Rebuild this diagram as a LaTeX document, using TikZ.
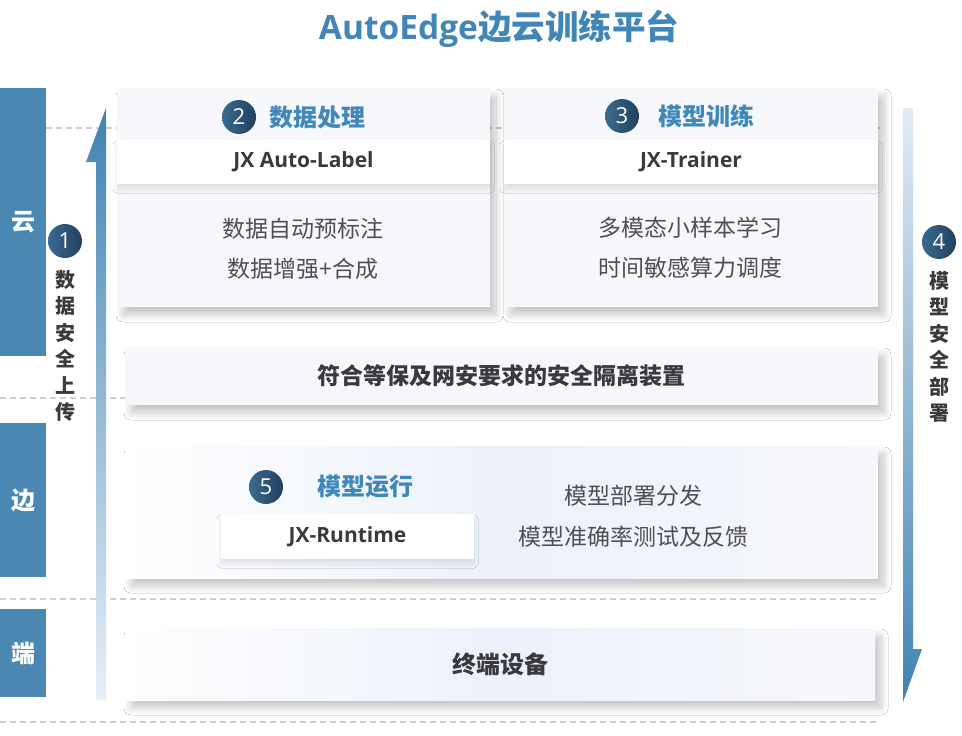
\documentclass[tikz,border=0pt]{standalone}
\usepackage{fontspec}
\setmainfont{Noto Sans CJK SC}
\newfontfamily\latin{Open Sans}
\usetikzlibrary{positioning,shadows.blur}

\definecolor{barblue}{RGB}{74,135,178}
\definecolor{titleblue}{RGB}{66,134,184}
\definecolor{headblue}{RGB}{64,135,186}
\definecolor{textdark}{RGB}{58,58,62}
\definecolor{textbody}{RGB}{80,80,84}
\definecolor{dashc}{RGB}{204,207,214}
\definecolor{cardbg}{RGB}{247,248,252}
\definecolor{cardmid}{RGB}{236,241,250}
\definecolor{badgeA}{RGB}{58,106,145}
\definecolor{badgeB}{RGB}{34,64,92}
\definecolor{arrdark}{RGB}{64,130,178}
\definecolor{arrlight}{RGB}{226,236,245}
\newcommand\fsz[1]{\fontsize{#1}{#1}\selectfont}

\begin{document}
\begin{tikzpicture}[x=1pt,y=-1pt,
 card/.style={rectangle,inner sep=0,fill=cardbg,
  blur shadow={shadow xshift=6pt,shadow yshift=-8pt,shadow blur radius=7pt,shadow blur steps=14,shadow blur extra rounding=0pt,shadow opacity=22}},
 strip/.style={rectangle,inner sep=0,fill=white,text=textdark,font=\latin\bfseries\fsz{21},
  blur shadow={shadow xshift=0pt,shadow yshift=-5pt,shadow blur radius=4pt,shadow blur steps=10,shadow blur extra rounding=0pt,shadow opacity=10}},
 lbar/.style={rectangle,inner sep=0,fill=barblue,text=white,minimum width=46pt,font=\bfseries\fsz{24}},
 badge/.style={circle,inner sep=0,minimum size=34pt,left color=badgeA,right color=badgeB,text=white,font=\latin\fsz{22}},
 head/.style={inner sep=0,text=headblue,font=\bfseries\fsz{24}},
 body/.style={align=center,inner sep=0,text=textbody,font=\fontsize{23}{40}\selectfont},
 vtext/.style={align=center,inner sep=0,text=textdark,font=\bfseries\fontsize{20}{26.4}\selectfont},
 sep/.style={draw=dashc,line width=1.2pt,dash pattern=on 6pt off 4pt}]
\fill[white] (0,0) rectangle (962,736);
\useasboundingbox (0,0) rectangle (962,736);

\node[text=titleblue,font=\bfseries\fsz{33.5}] (ttl) at (499,29) {{\latin AutoEdge}边云训练平台};

\draw[sep] (46,128) -- (880,128);
\draw[sep] (0,398) -- (880,398);
\draw[sep] (0,599) -- (876,599);
\draw[sep] (0,722) -- (880,722);

\shade[top color=arrdark,bottom color=arrlight!80!white]
 (96,700) -- (96,162) -- (86,162) -- (106,108) -- (106,700) -- cycle;
\shade[top color=arrlight,bottom color=arrdark]
 (903,108) -- (913,108) -- (913,649) -- (922,649) -- (903,702) -- cycle;

\node[lbar,minimum height=268pt] (cloud) at (23,222) {云};
\node[lbar,minimum height=154pt] (edge) at (23,500) {边};
\node[lbar,minimum height=88pt] (term) at (23,653) {端};

\node[badge] (b1) at (65,241) {1};
\node[vtext,below=12pt of b1] (up) {数\\据\\安\\全\\上\\传};
\node[badge] (b4) at (939,242) {4};
\node[vtext,below=12pt of b4] (down) {模\\型\\安\\全\\部\\署};

\node[card,minimum width=373pt,minimum height=219pt] (dp) at (303.5,197.5) {};
\node[strip,minimum width=373pt,minimum height=44pt] (dp_s) at (303.5,162) {JX Auto-Label};
\node[badge] (b2) at (239,117) {2};
\node[head,right=13pt of b2] (dp_h) {数据处理};
\node[body] (dp_b) at (303,249) {数据自动预标注\\数据增强+合成};

\node[card,minimum width=374pt,minimum height=219pt] (mt) at (691,197.5) {};
\node[strip,minimum width=374pt,minimum height=44pt] (mt_s) at (691,162) {JX-Trainer};
\node[badge] (b3) at (622,116) {3};
\node[head,right=19pt of b3] (mt_h) {模型训练};
\node[body] (mt_b) at (690,248) {多模态小样本学习\\时间敏感算力调度};

\node[card,minimum width=753pt,minimum height=58pt,text=textdark,font=\bfseries\fsz{23}] (iso) at (501.5,376) {符合等保及网安要求的安全隔离装置};

\node[card,minimum width=753pt,minimum height=132pt,left color=white,right color=cardbg,middle color=cardmid] (er) at (501.5,512) {};
\node[badge] (b5) at (266,487) {5};
\node[head,right=34pt of b5] (er_h) {模型运行};
\node[strip,minimum width=253pt,minimum height=45pt] (er_s) at (347.5,536.5) {JX-Runtime};
\node[body,font=\fontsize{23}{41}\selectfont] (er_b) at (633,516.5) {模型部署分发\\模型准确率测试及反馈};

\node[card,minimum width=750pt,minimum height=72pt,left color=white,right color=cardbg,middle color=cardmid,text=textdark,font=\bfseries\fsz{24}] (dev) at (500,664) {终端设备};
\end{tikzpicture}
\end{document}
